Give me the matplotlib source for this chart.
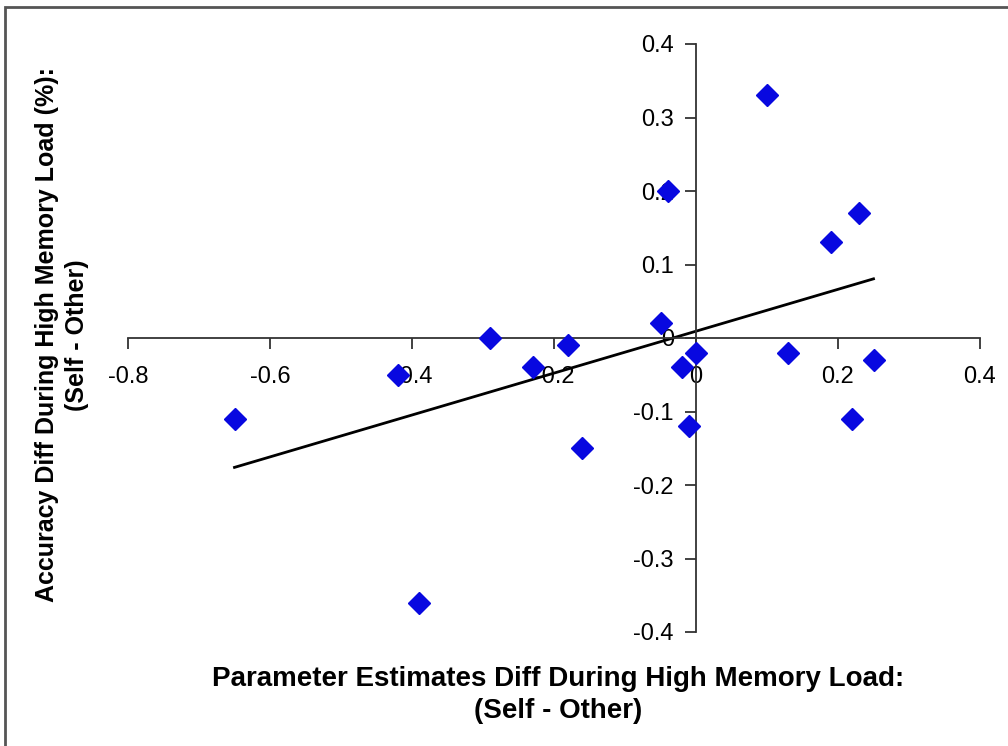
import numpy as np
import matplotlib.pyplot as plt
from matplotlib.patches import Rectangle

# valeurs
x_vals = [-0.65, -0.42, -0.39, -0.29, -0.23, -0.18, -0.16, -0.05, -0.04,
          -0.02, -0.01, 0.0, 0.10, 0.13, 0.19, 0.23, 0.22, 0.25]
y_vals = [-0.11, -0.05, -0.36, 0.0, -0.04, -0.01, -0.15, 0.02, 0.20,
          -0.04, -0.12, -0.02, 0.33, -0.02, 0.13, 0.17, -0.11, -0.03]
x_ticks = [-0.8, -0.6, -0.4, -0.2, 0, 0.2, 0.4]
y_ticks = [-0.4, -0.3, -0.2, -0.1, 0, 0.1, 0.2, 0.3, 0.4]
x_label = "Parameter Estimates Diff During High Memory Load:\n(Self - Other)"
y_label = "Accuracy Diff During High Memory Load (%):\n(Self - Other)"

plt.rcParams['font.family'] = ['Liberation Sans', 'DejaVu Sans']

fig = plt.figure(figsize=(10.08, 7.46), dpi=100)
ax = fig.add_axes([128/1008, 1-632/746, (980-128)/1008, (632-44)/746])

x = np.array(x_vals)
y = np.array(y_vals)
ax.plot(x, y, 'D', color='#0808e0', markersize=11, zorder=3, clip_on=False)

# droite de tendance (moindres carres)
a, b = np.polyfit(x, y, 1)
xl = np.array([x.min(), x.max()])
ax.plot(xl, a*xl+b, 'k', lw=2, zorder=2)

ax.set_xlim(-0.8, 0.4)
ax.set_ylim(-0.4, 0.4)
ax.spines['left'].set_position(('data', 0))
ax.spines['bottom'].set_position(('data', 0))
ax.spines['right'].set_visible(False)
ax.spines['top'].set_visible(False)
for s in ['left', 'bottom']:
    ax.spines[s].set_color('#333333')
    ax.spines[s].set_linewidth(1.3)

ax.set_xticks(x_ticks)
ax.set_xticklabels(['%g' % v for v in x_ticks])
ax.set_yticks(y_ticks)
ax.set_yticklabels(['%g' % v for v in y_ticks])
ax.tick_params(axis='x', direction='out', length=8, width=1.3, color='#333333',
               labelsize=17, pad=12)
ax.tick_params(axis='y', direction='out', length=8, width=1.3, color='#333333',
               labelsize=17, pad=8)

fig.text(0.554, 1-695/746, x_label, ha='center', va='center', fontsize=20,
         fontweight='bold', linespacing=1.3)
fig.text(62/1008, 1-335/746, y_label, ha='center', va='center', rotation=90,
         fontsize=18, fontweight='bold', linespacing=1.3)

fig.patches.append(Rectangle((5/1008, -0.05), 1.1, 1.05-7/746, transform=fig.transFigure,
                             fill=False, edgecolor='#555555', lw=2))

fig.savefig('out.png', dpi=100)
